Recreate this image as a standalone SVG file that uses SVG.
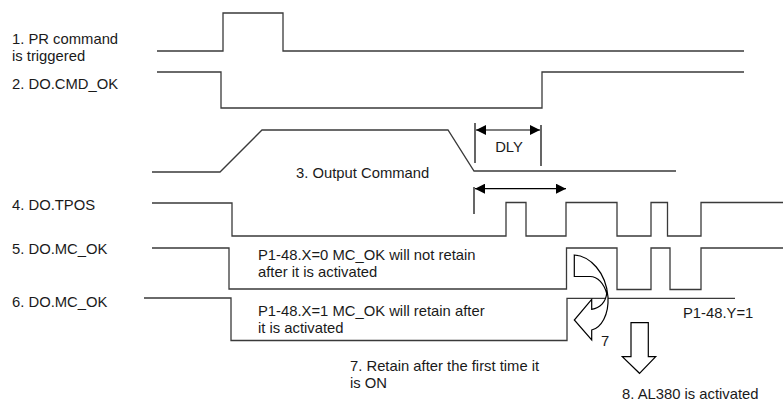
<svg xmlns="http://www.w3.org/2000/svg" width="783" height="403" viewBox="0 0 783 403">
<style>
.sig{fill:none;stroke:#3a3a3a;stroke-width:1.3}
.dim{fill:none;stroke:#000;stroke-width:1.2}
.shape{fill:#fff;stroke:#000;stroke-width:1.2}
text{font-family:"Liberation Sans",Arial,sans-serif;font-size:14.8px;fill:#1a1a1a}
</style>
<defs>
<marker id="ah" viewBox="0 0 10 10" refX="10" refY="5" markerWidth="15" markerHeight="10" markerUnits="userSpaceOnUse" orient="auto-start-reverse">
<path d="M0,0 L10,5 L0,10 Z" fill="#000"/>
</marker>
</defs>
<rect width="783" height="403" fill="#fff"/>
<g id="labels">
<text x="12" y="43.5">1. PR command</text>
<text x="12" y="60.5">is triggered</text>
<text x="12" y="89">2. DO.CMD_OK</text>
<text x="296" y="178">3. Output Command</text>
<text x="12" y="210">4. DO.TPOS</text>
<text x="12" y="254">5. DO.MC_OK</text>
<text x="12" y="306.5">6. DO.MC_OK</text>
<text x="258" y="259.5">P1-48.X=0 MC_OK will not retain</text>
<text x="258" y="276.5">after it is activated</text>
<text x="258" y="315.5">P1-48.X=1 MC_OK will retain after</text>
<text x="258" y="332.5">it is activated</text>
<text x="350" y="370.5">7. Retain after the first time it</text>
<text x="350" y="387.5">is ON</text>
<text x="683" y="318">P1-48.Y=1</text>
<text x="601" y="346">7</text>
<text x="622" y="399">8. AL380 is activated</text>
<text x="509" y="152" text-anchor="middle">DLY</text>
</g>
<g id="connectors">
<path id="sig-pr" class="sig" d="M157,51 H223 V13 H283 V51 H744"/>
<path id="sig-cmdok" class="sig" d="M157,72 H221 V108 H542 V72 H744"/>
<path id="sig-output" class="sig" d="M152,172 H220 L262,130 H448 L474,171 H676"/>
<path id="sig-tpos" class="sig" d="M152,203 H232 V236 H506 V202.5 H526 V236 H566 V202.5 H617 V236 H651 V202.5 H667.5 V236 H701 V202.5 H783"/>
<path id="sig-mcok5" class="sig" d="M152,248 H229 V289 H566.5 V248 H617 V289.5 H651 V248 H670 V289.5 H701 V248 H783"/>
<path id="sig-mcok6" class="sig" d="M144,298 H231 V340.5 H567 V298.3 H735"/>
<path class="dim" d="M475,123 V163 M541,125 V166"/>
<line class="dim" x1="476" y1="130" x2="540" y2="130" marker-start="url(#ah)" marker-end="url(#ah)"/>
<path class="dim" d="M474,187 V214"/>
<line class="dim" x1="475" y1="188.7" x2="566" y2="188.7" marker-start="url(#ah)" marker-end="url(#ah)"/>
</g>
<g id="curved-arrow">
<path class="shape" d="M574.3,255 C590,256 606,272 608,297 C609,315 601,328 591.7,330 L591.7,340 L574.3,320 L591.7,299.3 L591.7,309.3 C600,308 606,302 606.7,293.3 C604,284 598,276.5 590,276.5 L574.3,276.5 Z"/>
</g>
<g id="down-arrow">
<path class="shape" d="M631,322.7 H648.3 V356.7 H655.7 L639.5,373.3 L622.3,356.7 H631 Z"/>
</g>
</svg>
